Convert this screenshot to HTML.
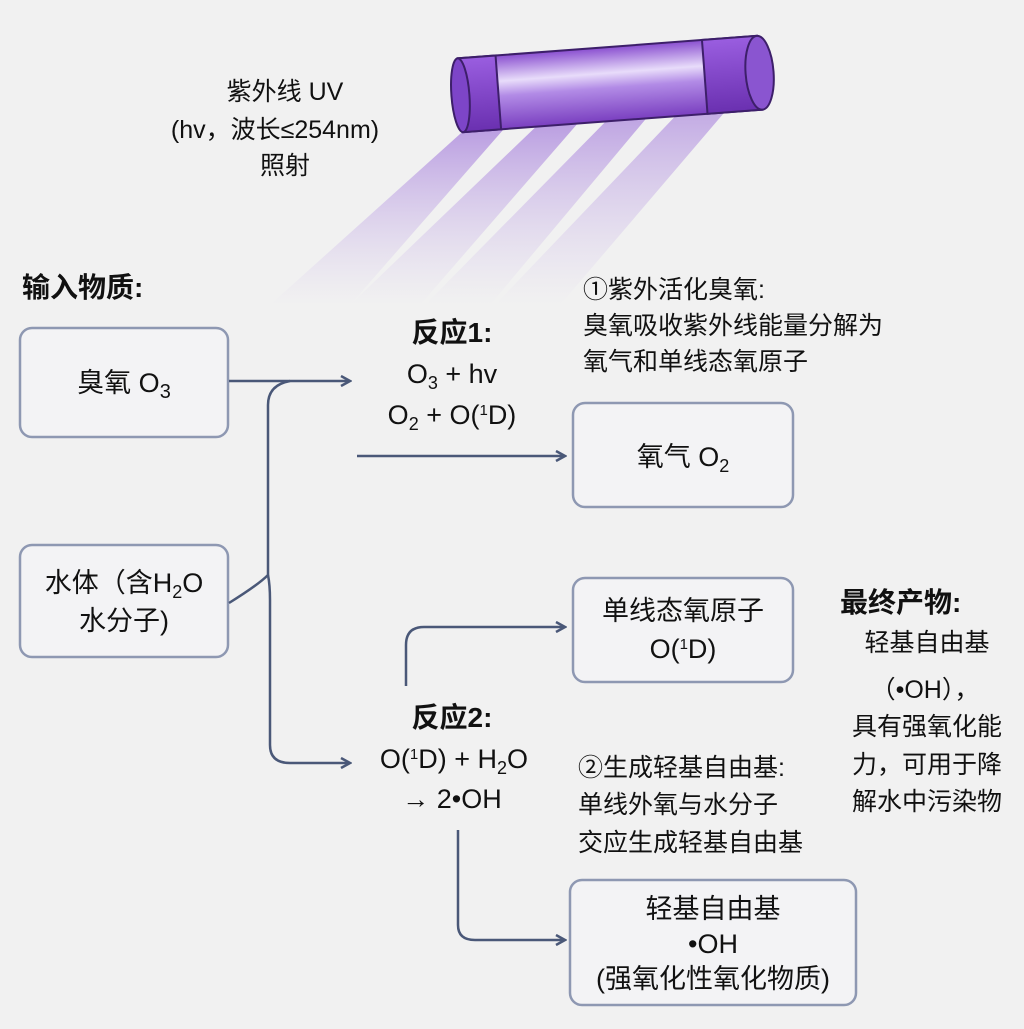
<!DOCTYPE html>
<html><head><meta charset="utf-8"><style>
html,body{margin:0;padding:0;background:#f1f1f1}
svg text{font-family:"Liberation Sans","Noto Sans CJK SC",sans-serif;fill:#111}
</style></head><body>
<svg width="1024" height="1024" viewBox="0 0 1024 1024" xmlns="http://www.w3.org/2000/svg">
<defs>
<linearGradient id="beam" x1="0" y1="0" x2="0" y2="1">
<stop offset="0" stop-color="#9b6fd8" stop-opacity="0.85"/>
<stop offset="1" stop-color="#c7b0ea" stop-opacity="0"/>
</linearGradient>
<linearGradient id="tube" x1="0" y1="0" x2="0" y2="1">
<stop offset="0" stop-color="#8a4fd0"/>
<stop offset="0.35" stop-color="#e8dcfa"/>
<stop offset="0.55" stop-color="#b28be6"/>
<stop offset="1" stop-color="#7a3fc0"/>
</linearGradient>
<linearGradient id="cap" x1="0" y1="0" x2="0" y2="1">
<stop offset="0" stop-color="#9a5ee0"/>
<stop offset="1" stop-color="#6a30b0"/>
</linearGradient>
<marker id="ar" markerWidth="12" markerHeight="12" refX="10" refY="6" orient="auto" markerUnits="userSpaceOnUse">
<path d="M1,1 L10,6 L1,11" fill="none" stroke="#4a5878" stroke-width="2.5"/>
</marker>
</defs>
<rect width="1024" height="1024" fill="#f1f1f1"/>
<!-- beams -->
<polygon points="470,125 510,122 350,305 270,305" fill="url(#beam)" opacity="0.8"/>
<polygon points="545,118 585,115 420,305 350,305" fill="url(#beam)" opacity="0.8"/>
<polygon points="615,112 655,108 490,305 425,305" fill="url(#beam)" opacity="0.75"/>
<polygon points="685,106 735,100 560,305 495,305" fill="url(#beam)" opacity="0.7"/>
<!-- lamp -->
<g transform="rotate(-4.3 610 84)">
<rect x="460" y="47" width="300" height="74" fill="url(#tube)" stroke="#3d1f6a" stroke-width="2"/>
<rect x="460" y="47" width="38" height="74" fill="url(#cap)" stroke="#3d1f6a" stroke-width="2"/>
<ellipse cx="460" cy="84" rx="9" ry="37" fill="#7d45c8" stroke="#3d1f6a" stroke-width="2"/>
<rect x="705" y="47" width="55" height="74" fill="url(#cap)" stroke="#3d1f6a" stroke-width="2"/>
<ellipse cx="760" cy="84" rx="14" ry="37" fill="#8a55d0" stroke="#3d1f6a" stroke-width="2"/>
</g>
<text x="285" y="100" font-size="25" text-anchor="middle">紫外线 UV</text>
<text x="275" y="138" font-size="25" text-anchor="middle">(hv，波长≤254nm)</text>
<text x="285" y="174" font-size="25" text-anchor="middle">照射</text>

<text x="22" y="297" font-size="28" font-weight="bold">输入物质:</text>

<!-- boxes -->
<g fill="#f3f3f5" stroke="#8e98b2" stroke-width="2.5">
<rect x="20" y="328" width="208" height="109" rx="12"/>
<rect x="20" y="545" width="208" height="112" rx="12"/>
<rect x="573" y="403" width="220" height="104" rx="12"/>
<rect x="573" y="578" width="220" height="104" rx="12"/>
<rect x="570" y="880" width="286" height="125" rx="12"/>
</g>
<text x="124" y="392" font-size="27" text-anchor="middle">臭氧 O<tspan font-size="20" dy="6">3</tspan></text>
<text x="124" y="592" font-size="27" text-anchor="middle">水体（含H<tspan font-size="18" dy="6">2</tspan><tspan dy="-6">O</tspan></text>
<text x="124" y="630" font-size="27" text-anchor="middle">水分子)</text>
<text x="683" y="466" font-size="27" text-anchor="middle">氧气 O<tspan font-size="18" dy="6">2</tspan></text>
<text x="683" y="620" font-size="27" text-anchor="middle">单线态氧原子</text>
<text x="683" y="658" font-size="27" text-anchor="middle">O(<tspan font-size="15" dy="-9">1</tspan><tspan dy="9">D)</tspan></text>
<text x="713" y="918" font-size="27" text-anchor="middle">轻基自由基</text>
<text x="713" y="953" font-size="27" text-anchor="middle">•OH</text>
<text x="713" y="988" font-size="27" text-anchor="middle">(强氧化性氧化物质)</text>

<!-- connectors -->
<g fill="none" stroke="#4a5878" stroke-width="2.5">
<path d="M229,381 L350,381" marker-end="url(#ar)"/>
<path d="M229,603 Q258,585 268,575 L268,405 Q268,385 290,381" />
<path d="M268,575 Q270,585 270,600 L270,745 Q270,763 290,763 L350,763" marker-end="url(#ar)"/>
<path d="M357,456 L565,456" marker-end="url(#ar)"/>
<path d="M406,686 L406,645 Q406,627 424,627 L565,627" marker-end="url(#ar)"/>
<path d="M458,830 L458,925 Q458,940 475,940 L565,940" marker-end="url(#ar)"/>
</g>

<text x="452" y="342" font-size="28" font-weight="bold" text-anchor="middle">反应1:</text>
<text x="452" y="383" font-size="27" text-anchor="middle">O<tspan font-size="18" dy="6">3</tspan><tspan dy="-6"> + hv</tspan></text>
<text x="452" y="424" font-size="27" text-anchor="middle">O<tspan font-size="18" dy="6">2</tspan><tspan dy="-6"> + O(</tspan><tspan font-size="15" dy="-9">1</tspan><tspan dy="9">D)</tspan></text>

<text x="452" y="727" font-size="28" font-weight="bold" text-anchor="middle">反应2:</text>
<text x="454" y="768" font-size="27" text-anchor="middle">O(<tspan font-size="15" dy="-9">1</tspan><tspan dy="9">D) + H</tspan><tspan font-size="18" dy="6">2</tspan><tspan dy="-6">O</tspan></text>
<text x="452" y="808" font-size="27" text-anchor="middle">→ 2•OH</text>

<text x="583" y="298" font-size="25">①紫外活化臭氧:</text>
<text x="583" y="334" font-size="25">臭氧吸收紫外线能量分解为</text>
<text x="583" y="370" font-size="25">氧气和单线态氧原子</text>

<text x="578" y="776" font-size="25">②生成轻基自由基:</text>
<text x="578" y="813" font-size="25">单线外氧与水分子</text>
<text x="578" y="851" font-size="25">交应生成轻基自由基</text>

<text x="840" y="612" font-size="28" font-weight="bold">最终产物:</text>
<text x="927" y="651" font-size="25" text-anchor="middle">轻基自由基</text>
<text x="925" y="698" font-size="25" text-anchor="middle">（•OH），</text>
<text x="927" y="735" font-size="25" text-anchor="middle">具有强氧化能</text>
<text x="927" y="773" font-size="25" text-anchor="middle">力，可用于降</text>
<text x="927" y="810" font-size="25" text-anchor="middle">解水中污染物</text>
</svg>
</body></html>
